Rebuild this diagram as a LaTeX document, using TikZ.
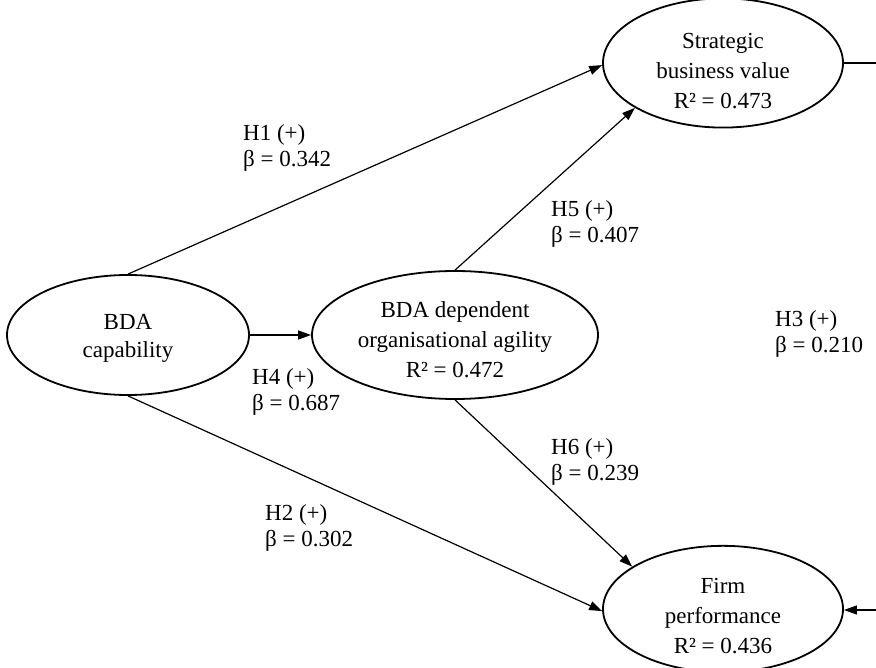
\documentclass[tikz,border=0pt]{standalone}
\usepackage{fontspec}
\setmainfont{Liberation Serif}
\usetikzlibrary{arrows.meta,shapes.geometric}
\newcommand{\lift}[1]{\rule{0pt}{#1}}
\begin{document}
\begin{tikzpicture}[x=1pt,y=-1pt,
  construct/.style={draw, ellipse, line width=1.8pt, inner sep=0pt, align=center,
    font={\fontsize{23pt}{30pt}\selectfont}},
  lbl/.style={anchor=north west, inner sep=0pt, align=left,
    font={\fontsize{23pt}{26pt}\selectfont}},
  arr/.style={line width=1.2pt, -{Triangle[length=13pt,width=9pt]}},
  plain/.style={line width=1.2pt}]
\useasboundingbox (0,0) rectangle (876,668);
\node[construct, minimum width=242pt, minimum height=120pt, font={\fontsize{23pt}{28pt}\selectfont}] (cap) at (128,335) {\lift{21pt}BDA\\capability};
\node[construct, minimum width=286pt, minimum height=128pt] (dep) at (455,335) {\lift{26pt}BDA dependent\\organisational agility\\R² = 0.472};
\node[construct, minimum width=240pt, minimum height=118pt] (sbv) at (723,63) {\lift{31pt}Strategic\\business value\\R² = 0.473};
\node[construct, minimum width=240pt, minimum height=118pt] (fp) at (723,609) {\lift{29pt}Firm\\performance\\R² = 0.436};
\coordinate (r1) at (876,63);
\coordinate (r2) at (876,610);
\draw[arr] (cap.east) -- (dep.west);
\draw[arr] (cap.north) -- (sbv.181);
\draw[arr] (cap.south) -- (fp.181);
\draw[arr] (dep.north) -- (sbv.207);
\draw[arr] (dep.south) -- (fp.155);
\draw[plain] (sbv.east) -- (r1);
\draw[arr] (r2) -- (fp.east |- r2);
\node[lbl] (h1) at (243,124) {H1 (+)\\β = 0.342};
\node[lbl] (h5) at (551,200) {H5 (+)\\β = 0.407};
\node[lbl] (h3) at (775,310) {H3 (+)\\β = 0.210};
\node[lbl] (h4) at (252,368) {H4 (+)\\β = 0.687};
\node[lbl] (h6) at (551,438) {H6 (+)\\β = 0.239};
\node[lbl] (h2) at (265,504) {H2 (+)\\β = 0.302};
\end{tikzpicture}
\end{document}
